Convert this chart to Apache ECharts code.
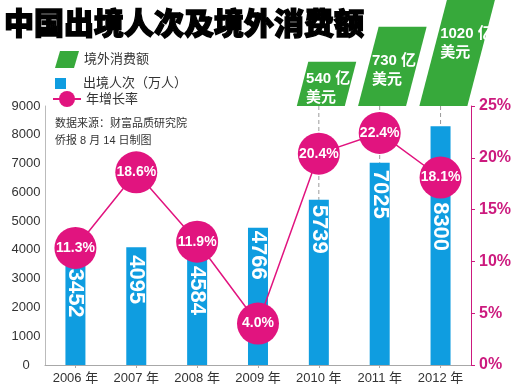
<!DOCTYPE html>
<html><head><meta charset="utf-8">
<script src="https://cdn.jsdelivr.net/npm/echarts@6/dist/echarts.min.js"></script>
<style>html,body{margin:0;padding:0;background:#fff}#c{width:514px;height:385px}</style>
</head><body><div id="c"></div>
<script>
const years = ['2006 年','2007 年','2008 年','2009 年','2010 年','2011 年','2012 年'];
const visitors = [3452, 4095, 4584, 4766, 5739, 7025, 8300];
const growth = [11.3, 18.6, 11.9, 4.0, 20.4, 22.4, 18.1];
const spending = [null, null, null, null, 540, 730, 1020];
const leftTicks = [0, 9000, 1000];
const rightTicks = [0, 25, 5];

const GREEN = '#37a93b', BLUE = '#0f9de0', PINK = '#e1147f', PINK_AX = '#cc1a7e';
const FONT = '"Liberation Sans", "Noto Sans CJK SC", sans-serif';
const SPEND_MIN = 300, SPEND_MAX = 876, SKEW = 0.26;
const labelDist = [3, 8, 33, 3, 5, 7, 76];

const spendData = [];
const dashData = [];
spending.forEach((v, i) => {
  if (v != null) { spendData.push([i, v]); dashData.push([i, visitors[i]]); }
});

const chart = echarts.init(document.getElementById('c'), null, {renderer: 'canvas'});
chart.setOption({
  animation: false,
  backgroundColor: '#fff',
  textStyle: {fontFamily: FONT},
  title: {
    text: '中国出境人次及境外消费额', left: 4, top: 8, padding: 0,
    textStyle: {fontSize: 30, fontWeight: 900, color: '#000', textBorderColor: '#000', textBorderWidth: 1.4,
                fontFamily: '"Noto Sans CJK SC", sans-serif'}
  },
  legend: [
    {data: [{name: '境外消费额', icon: 'path://M5,0 L24,0 L19,17 L0,17 Z'}], left: 55, top: 51, padding: 0,
     itemWidth: 24, itemHeight: 17, textStyle: {fontSize: 13, color: '#333'}},
    {data: [{name: '出境人次（万人）', icon: 'rect'}], left: 55, top: 77, padding: 0,
     itemWidth: 11, itemHeight: 11, formatter: '{a|{name}}',
     textStyle: {fontSize: 13, color: '#333', rich: {a: {fontSize: 13, color: '#333', padding: [0, 0, 0, 12]}}}},
    {data: ['年增长率'], left: 52, top: 91, padding: 0,
     itemWidth: 28, itemHeight: 20, textStyle: {fontSize: 13, color: '#333'}}
  ],
  graphic: [
    {type: 'text', left: 55, top: 118, style: {text: '数据来源：财富品质研究院', fontSize: 11, fill: '#333', fontFamily: FONT}},
    {type: 'text', left: 55, top: 135, style: {text: '侨报 8 月 14 日制图', fontSize: 11, fill: '#333', fontFamily: FONT}}
  ],
  grid: [
    {left: 45, right: 40, top: 106, bottom: 19},
    {left: 45, right: 40, top: 0, bottom: 279}
  ],
  xAxis: [
    {type: 'category', data: years, gridIndex: 0,
     axisLine: {lineStyle: {color: '#a8a8a8', width: 1}},
     axisTick: {show: true, alignWithLabel: true, length: 3, lineStyle: {color: '#a8a8a8'}},
     axisLabel: {fontSize: 13, color: '#333', margin: 7}},
    {type: 'category', data: years, gridIndex: 1, show: false}
  ],
  yAxis: [
    {type: 'value', gridIndex: 0, min: leftTicks[0], max: leftTicks[1], interval: leftTicks[2],
     axisLine: {show: true, lineStyle: {color: '#bbb'}}, axisTick: {show: false}, splitLine: {show: false},
     axisLabel: {fontSize: 13, color: '#333', align: 'center', margin: 19, formatter: v => String(v)}},
    {type: 'value', gridIndex: 0, position: 'right', min: rightTicks[0], max: rightTicks[1], interval: rightTicks[2],
     axisLine: {show: true, lineStyle: {color: PINK_AX, width: 1}},
     axisTick: {show: true, length: 4, lineStyle: {color: PINK_AX}}, splitLine: {show: false},
     axisLabel: {formatter: '{value}%', fontSize: 16, fontWeight: 'bold', color: PINK_AX, margin: 8}},
    {type: 'value', gridIndex: 1, min: SPEND_MIN, max: SPEND_MAX, show: false}
  ],
  series: [
    {name: '境外消费额', type: 'custom', xAxisIndex: 1, yAxisIndex: 2, itemStyle: {color: GREEN},
     data: spendData, clip: false, z: 2,
     renderItem: function (params, api) {
       const i = api.value(0), v = api.value(1);
       const top = api.coord([i, v]);
       const bot = api.coord([i, SPEND_MIN]);
       const cx = bot[0], yb = bot[1], yt = top[1];
       const h = yb - yt, w = 48, s = SKEW * h;
       const ly = (yt + yb) / 2 + 4;
       const lx = cx - w / 2 + SKEW * (yb - (ly - 10)) + 2;
       return {type: 'group', children: [
         {type: 'polygon', shape: {points: [[cx - w / 2, yb], [cx + w / 2, yb], [cx + w / 2 + s, yt], [cx - w / 2 + s, yt]]},
          style: {fill: GREEN}},
         {type: 'text', x: lx, y: ly,
          style: {text: v + ' 亿\n美元', fill: '#fff', fontSize: 15, fontWeight: 'bold', fontFamily: FONT,
                  align: 'left', verticalAlign: 'middle', lineHeight: 19}}
       ]};
     }},
    {name: 'guide', type: 'custom', xAxisIndex: 0, yAxisIndex: 0, data: dashData, z: 1, silent: true,
     renderItem: function (params, api) {
       const i = api.value(0);
       const a = api.coord([i, leftTicks[1]]);
       const b = api.coord([i, api.value(1)]);
       return {type: 'line', shape: {x1: a[0], y1: a[1], x2: b[0], y2: b[1]},
               style: {stroke: '#9a9a9a', lineWidth: 1, lineDash: [4, 3]}};
     }},
    {name: '出境人次（万人）', type: 'bar', xAxisIndex: 0, yAxisIndex: 0, barWidth: 20, z: 3,
     itemStyle: {color: BLUE},
     data: visitors.map((v, i) => ({value: v, label: {distance: labelDist[i]}})),
     label: {show: true, position: 'insideTop', rotate: -90, align: 'left', verticalAlign: 'middle',
             color: '#fff', fontSize: 22, fontWeight: 'bold', fontFamily: FONT, formatter: '{c}'}},
    {name: '年增长率', type: 'line', xAxisIndex: 0, yAxisIndex: 1, data: growth, z: 5,
     symbol: 'circle', symbolSize: 42,
     lineStyle: {color: PINK, width: 1.5}, itemStyle: {color: PINK},
     label: {show: true, position: 'inside', color: '#fff', fontSize: 14, fontWeight: 'bold', fontFamily: FONT,
             formatter: p => p.value.toFixed(1) + '%'}}
  ]
});
</script></body></html>
